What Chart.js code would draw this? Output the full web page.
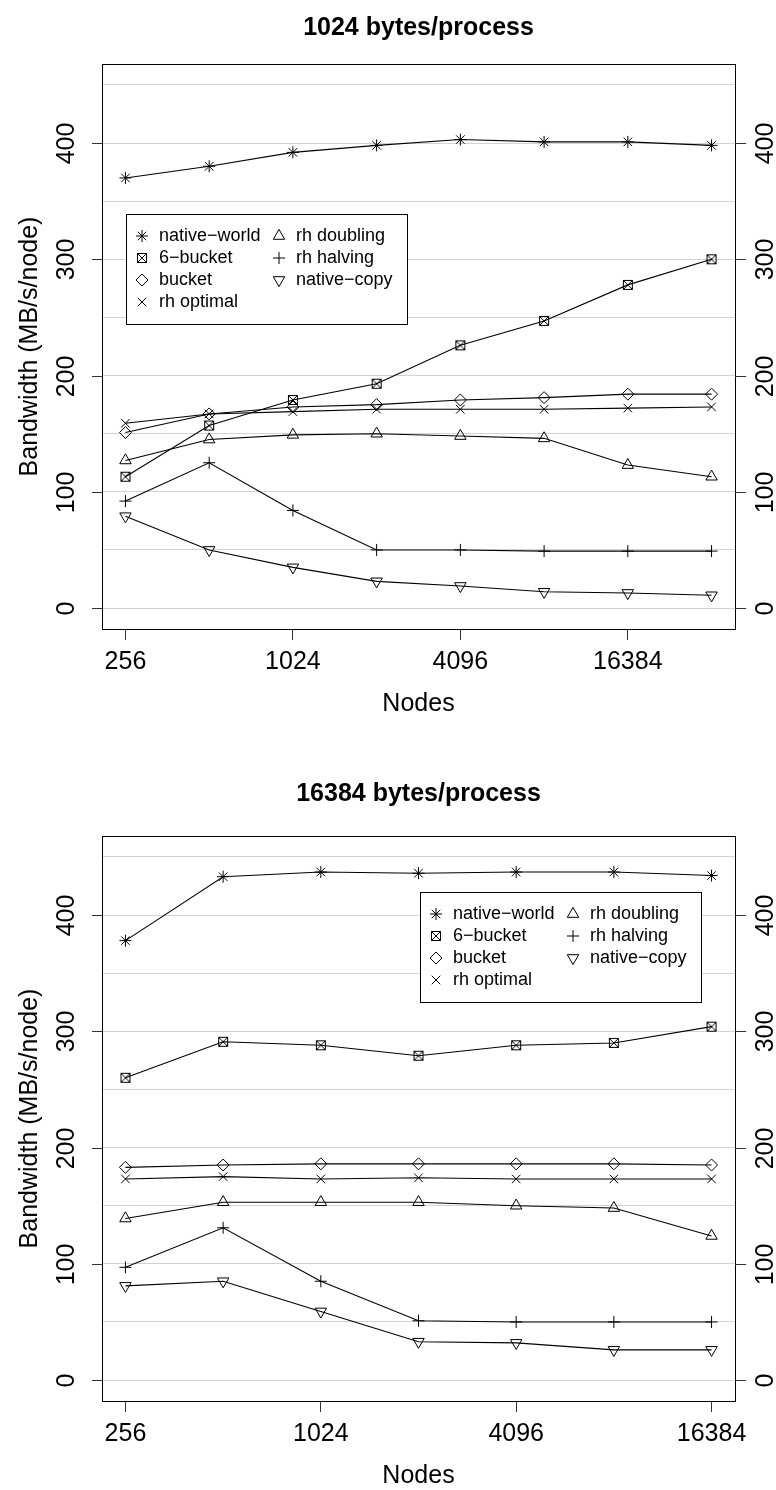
<!DOCTYPE html>
<html>
<head>
<meta charset="utf-8">
<script src="https://cdn.jsdelivr.net/npm/chart.js@4.4.0/dist/chart.umd.min.js"></script>
<style>
  body { margin: 0; background: #fff; width: 776px; height: 1490px; overflow: hidden; position: relative; }
  canvas { position: absolute; left: 0; }
</style>
</head>
<body>
<canvas id="chart1k" width="776" height="772" style="top:0"></canvas>
<canvas id="chart16k" width="776" height="772" style="top:772px"></canvas>
<script>
// node counts on the x axis
const nodes1k = [256, 512, 1024, 2048, 4096, 8192, 16384, 32768];
const nodes16k = [256, 512, 1024, 2048, 4096, 8192, 16384];
const nodeTicks = [256, 1024, 4096, 16384];

// bandwidth axis
const bwTicks = [0, 100, 200, 300, 400];
const bwGrid = [0, 50, 100, 150, 200, 250, 300, 350, 400, 450];

const seriesNames = ['native−world', '6−bucket', 'bucket', 'rh optimal', 'rh doubling', 'rh halving', 'native−copy'];

// 1024 bytes/process
const nativeWorld1k = [370, 380, 392, 398, 403, 401, 401, 398];
const sixBucket1k = [113, 157, 179, 193, 226, 247, 278, 300];
const bucket1k = [151, 167, 173, 175, 179, 181, 184, 184];
const rhOptimal1k = [159, 167, 169, 171, 171, 171, 172, 173];
const rhDoubling1k = [127, 145, 149, 150, 148, 146, 123, 113];
const rhHalving1k = [92, 125, 84, 50, 50, 49, 49, 49];
const nativeCopy1k = [79, 50, 35, 23, 19, 14, 13, 11];

// 16384 bytes/process
const nativeWorld16k = [378, 433, 437, 436, 437, 437, 434];
const sixBucket16k = [260, 291, 288, 279, 288, 290, 304];
const bucket16k = [183, 185, 186, 186, 186, 186, 185];
const rhOptimal16k = [173, 175, 173, 174, 173, 173, 173];
const rhDoubling16k = [139, 153, 153, 153, 150, 148, 124];
const rhHalving16k = [97, 131, 85, 51, 50, 50, 50];
const nativeCopy16k = [81, 85, 59, 33, 32, 26, 26];

const FONT = '"Liberation Sans", Arial, Helvetica, sans-serif';

// square with a cross inside (R pch 7)
function squareCross() {
  const c = document.createElement('canvas');
  c.width = 12; c.height = 12;
  const g = c.getContext('2d');
  g.strokeStyle = '#000';
  g.lineWidth = 1;
  g.strokeRect(1.5, 1.5, 9, 9);
  g.beginPath();
  g.moveTo(1.5, 1.5); g.lineTo(10.5, 10.5);
  g.moveTo(10.5, 1.5); g.lineTo(1.5, 10.5);
  g.stroke();
  return c;
}

const markers = [
  { pointStyle: 'star', radius: 6, rotation: 0 },
  { pointStyle: squareCross(), radius: 6, rotation: 0 },
  { pointStyle: 'rectRot', radius: 6, rotation: 0 },
  { pointStyle: 'crossRot', radius: 6, rotation: 0 },
  { pointStyle: 'triangle', radius: 6.6, rotation: 0 },
  { pointStyle: 'cross', radius: 6, rotation: 0 },
  { pointStyle: 'triangle', radius: 6.6, rotation: 180 }
];

function makeDataset(i, nodes, values) {
  const m = markers[i];
  return {
    label: seriesNames[i],
    data: nodes.map((n, k) => ({ x: n, y: values[k] })),
    borderColor: '#000',
    borderWidth: 1.1,
    tension: 0,
    pointStyle: m.pointStyle,
    pointRadius: m.radius,
    pointRotation: m.rotation,
    pointBorderColor: '#000',
    pointBorderWidth: 1,
    pointBackgroundColor: 'rgba(0,0,0,0)'
  };
}

// frame, side axes, titles and legend drawn in base-graphics style
const rFrame = {
  id: 'rFrame',
  afterDraw(chart, args, opts) {
    const { ctx, chartArea: a } = chart;
    const y = chart.scales.y;
    ctx.save();
    ctx.strokeStyle = '#000';
    ctx.lineWidth = 1;
    ctx.strokeRect(a.left + 0.5, a.top + 0.5, a.right - a.left, a.bottom - a.top);

    ctx.fillStyle = '#000';
    ctx.font = '25px ' + FONT;
    ctx.textAlign = 'center';
    ctx.textBaseline = 'middle';
    bwTicks.forEach(v => {
      const py = Math.round(y.getPixelForValue(v)) + 0.5;
      ctx.strokeStyle = '#333';
      ctx.beginPath();
      ctx.moveTo(a.left - 10, py); ctx.lineTo(a.left, py);
      ctx.moveTo(a.right, py); ctx.lineTo(a.right + 11, py);
      ctx.stroke();
      [a.left - 35, a.right + 31].forEach(px => {
        ctx.save();
        ctx.translate(px, py);
        ctx.rotate(-Math.PI / 2);
        ctx.fillText(String(v), 0, 0);
        ctx.restore();
      });
    });

    const cx = (a.left + a.right) / 2;
    ctx.textBaseline = 'alphabetic';
    ctx.fillText('Nodes', cx, a.bottom + 82);
    ctx.save();
    ctx.translate(37, (a.top + a.bottom) / 2);
    ctx.rotate(-Math.PI / 2);
    ctx.fillText('Bandwidth (MB/s/node)', 0, 0);
    ctx.restore();

    ctx.font = 'bold 25px ' + FONT;
    ctx.fillText(opts.title, cx, a.top - opts.titleGap);

    // legend, two columns
    const lx = a.left + opts.legendX, ly = a.top + opts.legendY;
    ctx.fillStyle = '#fff';
    ctx.fillRect(lx, ly, 281, 110);
    ctx.strokeStyle = '#000';
    ctx.strokeRect(lx + 0.5, ly + 0.5, 281, 110);
    ctx.font = '18px ' + FONT;
    ctx.textAlign = 'left';
    ctx.textBaseline = 'middle';
    seriesNames.forEach((name, i) => {
      const col = i < 4 ? 0 : 1;
      const row = i < 4 ? i : i - 4;
      const sx = lx + 16 + col * 137;
      const sy = ly + 22 + row * 22;
      const m = markers[i];
      ctx.fillStyle = 'rgba(0,0,0,0)';
      ctx.strokeStyle = '#000';
      ctx.lineWidth = 1;
      Chart.helpers.drawPoint(ctx, { pointStyle: m.pointStyle, radius: m.radius, rotation: m.rotation, borderWidth: 1 }, sx, sy);
      ctx.fillStyle = '#000';
      ctx.fillText(name, sx + 17, sy);
    });
    ctx.restore();
  }
};

function makeChart(id, nodes, series, frameOpts) {
  const lo = Math.log2(nodes[0]), hi = Math.log2(nodes[nodes.length - 1]);
  const ext = (hi - lo) * 0.04;
  return new Chart(document.getElementById(id), {
    type: 'line',
    data: { datasets: series.map((vals, i) => makeDataset(i, nodes, vals)) },
    plugins: [rFrame],
    options: {
      responsive: false,
      animation: false,
      devicePixelRatio: 1,
      layout: { padding: { left: 102, right: 41, top: 64, bottom: 88 } },
      plugins: {
        legend: { display: false },
        tooltip: { enabled: false },
        rFrame: frameOpts
      },
      scales: {
        x: {
          type: 'logarithmic',
          min: Math.pow(2, lo - ext),
          max: Math.pow(2, hi + ext),
          afterBuildTicks: s => { s.ticks = nodeTicks.map(value => ({ value })); },
          ticks: {
            callback: v => String(v),
            autoSkip: false,
            maxRotation: 0,
            padding: 7,
            color: '#000',
            font: { family: FONT, size: 25 }
          },
          grid: { drawOnChartArea: false, drawTicks: true, tickLength: 11, tickColor: '#333' },
          border: { display: false }
        },
        y: {
          min: -18,
          max: 468,
          afterBuildTicks: s => { s.ticks = bwGrid.map(value => ({ value })); },
          ticks: { display: false },
          grid: { color: '#d3d3d3', drawTicks: false },
          border: { display: false }
        }
      }
    }
  });
}

makeChart('chart1k', nodes1k,
  [nativeWorld1k, sixBucket1k, bucket1k, rhOptimal1k, rhDoubling1k, rhHalving1k, nativeCopy1k],
  { title: '1024 bytes/process', titleGap: 29, legendX: 24, legendY: 150 });

makeChart('chart16k', nodes16k,
  [nativeWorld16k, sixBucket16k, bucket16k, rhOptimal16k, rhDoubling16k, rhHalving16k, nativeCopy16k],
  { title: '16384 bytes/process', titleGap: 35, legendX: 318, legendY: 56 });
</script>
</body>
</html>
